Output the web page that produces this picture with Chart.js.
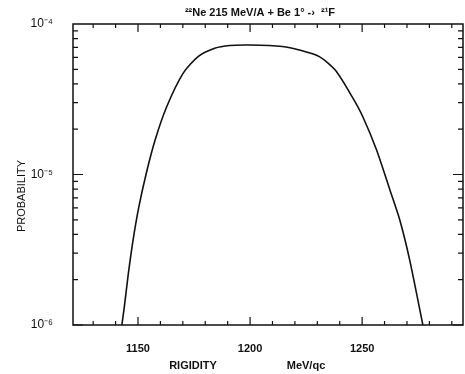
<!DOCTYPE html>
<html>
<head>
<meta charset="utf-8">
<script src="https://cdn.jsdelivr.net/npm/chart.js@4"></script>
<style>
  html, body { margin: 0; padding: 0; background: #fff; }
  #wrap { width: 465px; height: 374px; }
</style>
</head>
<body>
<div id="wrap"><canvas id="probChart"></canvas></div>
<script>
// rigidity (MeV/qc) and probability
const rigidity = [1142.8, 1143.9, 1145.7, 1147.8, 1150.4, 1153.7, 1157.6, 1162.8, 1170.1, 1176.8, 1184.2, 1190.9, 1199.8, 1214.4, 1222, 1230.9, 1238.0, 1245.5, 1250.3, 1256.4, 1262.4, 1266.8, 1271.2, 1277.1];
const probability = [1.0e-6, 1.32e-6, 2.2e-6, 3.67e-6, 6.11e-6, 1.02e-5, 1.69e-5, 2.82e-5, 4.70e-5, 6.07e-5, 6.90e-5, 7.2e-5, 7.25e-5, 7.09e-5, 6.72e-5, 6.07e-5, 4.94e-5, 3.29e-5, 2.42e-5, 1.46e-5, 7.89e-6, 4.99e-6, 2.71e-6, 1.0e-6];

const xTicks = [1150, 1200, 1250];
const yTicks = [1e-6, 1e-5, 1e-4];
const yTickLabels = ['10\u207B\u2076', '10\u207B\u2075', '10\u207B\u2074'];

const FONT = "'Liberation Sans', Arial, sans-serif";

// frame, inward ticks and texts
const framePlugin = {
    id: 'frame',
    afterDraw(chart) {
        const { ctx, chartArea: a, scales } = chart;
        const x = scales.x, y = scales.y;
        ctx.save();
        ctx.strokeStyle = '#111';
        ctx.lineWidth = 1.5;
        ctx.strokeRect(a.left, a.top, a.right - a.left, a.bottom - a.top);

        ctx.lineWidth = 1.2;
        ctx.beginPath();
        for (let v = 1130; v <= 1290; v += 10) {
            const px = x.getPixelForValue(v);
            const len = v % 50 === 0 ? 8 : 4;
            ctx.moveTo(px, a.bottom); ctx.lineTo(px, a.bottom - len);
            ctx.moveTo(px, a.top); ctx.lineTo(px, a.top + len);
        }
        for (let d = -6; d < -4; d++) {
            for (let m = 1; m <= 9; m++) {
                const v = m * Math.pow(10, d);
                const py = y.getPixelForValue(v);
                const len = m === 1 ? 10 : 5;
                ctx.moveTo(a.left, py); ctx.lineTo(a.left + len, py);
                ctx.moveTo(a.right, py); ctx.lineTo(a.right - len, py);
            }
        }
        ctx.stroke();

        ctx.fillStyle = '#111';
        ctx.textBaseline = 'middle';
        ctx.textAlign = 'center';
        ctx.font = 'bold 11px ' + FONT;
        ctx.fillText('\u00B2\u00B2Ne 215 MeV/A + Be 1\u00B0 -\u203A  \u00B2\u00B9F', 260, 13);
        ctx.fillText('RIGIDITY', 193, 366);
        ctx.fillText('MeV/qc', 306, 366);

        ctx.translate(22, 196);
        ctx.rotate(-Math.PI / 2);
        ctx.font = '11px ' + FONT;
        ctx.fillText('PROBABILITY', 0, 0);
        ctx.restore();
    }
};

new Chart(document.getElementById('probChart'), {
    type: 'line',
    data: {
        datasets: [{
            data: rigidity.map((r, i) => ({ x: r, y: probability[i] })),
            borderColor: '#111',
            borderWidth: 1.6,
            pointRadius: 0,
            tension: 0.25,
            fill: false,
        }],
    },
    options: {
        responsive: true,
        maintainAspectRatio: false,
        animation: false,
        layout: { padding: { top: 24, right: 2, left: 0, bottom: 0 } },
        plugins: { legend: { display: false }, tooltip: { enabled: false } },
        scales: {
            x: {
                type: 'linear',
                min: 1121,
                max: 1295,
                afterBuildTicks: s => { s.ticks = xTicks.map(v => ({ value: v })); },
                afterFit: s => { s.height = 49; },
                grid: { display: false },
                border: { display: false },
                ticks: {
                    color: '#111',
                    font: { family: FONT, size: 11, weight: 'bold' },
                    padding: 9,
                    maxRotation: 0,
                    callback: v => String(v),
                },
            },
            y: {
                type: 'logarithmic',
                min: 1e-6,
                max: 1e-4,
                afterBuildTicks: s => { s.ticks = yTicks.map(v => ({ value: v })); },
                afterFit: s => { s.width = 73; },
                grid: { display: false },
                border: { display: false },
                ticks: {
                    color: '#111',
                    font: { family: FONT, size: 12 },
                    padding: 12,
                    callback: v => yTickLabels[yTicks.indexOf(v)] || '',
                },
            },
        },
    },
    plugins: [framePlugin],
});
</script>
</body>
</html>
